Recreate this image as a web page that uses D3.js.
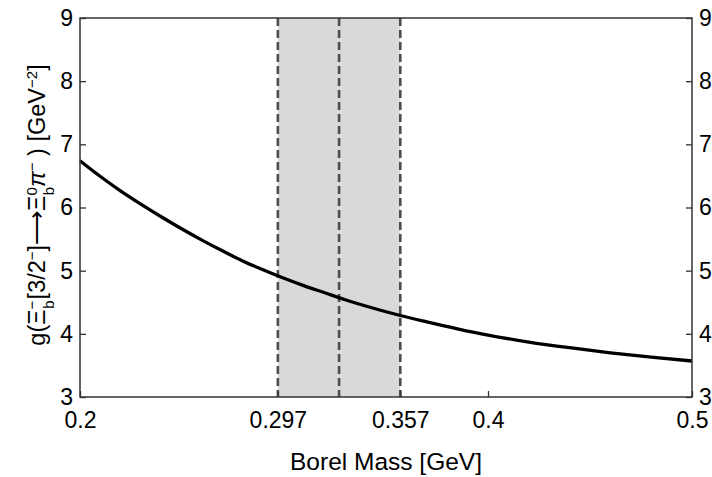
<!DOCTYPE html>
<html>
<head>
<meta charset="utf-8">
<script src="https://cdn.jsdelivr.net/npm/d3@7"></script>
<style>
  html, body { margin: 0; padding: 0; background: #fff; }
  svg { display: block; }
  text { font-family: "Liberation Sans", Arial, sans-serif; fill: #000; }
</style>
</head>
<body>
<svg id="chart" width="712" height="477"></svg>
<script>
// Borel mass (GeV) and strong coupling g (GeV^-2)
const borelMass = [0.200, 0.210, 0.220, 0.230, 0.240, 0.250, 0.260, 0.270, 0.280, 0.290,
                   0.300, 0.310, 0.320, 0.330, 0.340, 0.357, 0.370, 0.385, 0.400, 0.420,
                   0.440, 0.460, 0.480, 0.500];
const coupling  = [6.74, 6.49, 6.26, 6.05, 5.85, 5.66, 5.48, 5.31, 5.15, 5.01,
                   4.88, 4.76, 4.65, 4.54, 4.44, 4.29, 4.19, 4.08, 3.98, 3.87,
                   3.78, 3.70, 3.63, 3.57];

// Working window of the Borel parameter
const windowBounds = [0.297, 0.357];
const windowMid = 0.327;

const xTicks = [0.2, 0.297, 0.357, 0.4, 0.5];
const yTicks = [3, 4, 5, 6, 7, 8, 9];

const svg = d3.select("#chart");
const plotL = 80, plotR = 692, plotT = 18, plotB = 397;

const x = d3.scaleLinear().domain([0.2, 0.5]).range([plotL, plotR]);
const y = d3.scaleLinear().domain([3, 9]).range([plotB, plotT]);

// shaded window
svg.append("rect")
  .attr("x", x(windowBounds[0]))
  .attr("y", plotT)
  .attr("width", x(windowBounds[1]) - x(windowBounds[0]))
  .attr("height", plotB - plotT)
  .attr("fill", "#d9d9d9");

// dashed window edges and centre
svg.selectAll("line.win")
  .data([windowBounds[0], windowMid, windowBounds[1]])
  .join("line")
  .attr("class", "win")
  .attr("x1", d => x(d)).attr("x2", d => x(d))
  .attr("y1", plotT).attr("y2", plotB)
  .attr("stroke", "#4d4d4d")
  .attr("stroke-width", 2.6)
  .attr("stroke-dasharray", "8,4");

// coupling curve
const pts = borelMass.map((m, i) => [m, coupling[i]]);
svg.append("path")
  .datum(pts)
  .attr("fill", "none")
  .attr("stroke", "#000")
  .attr("stroke-width", 3.3)
  .attr("d", d3.line().x(d => x(d[0])).y(d => y(d[1])).curve(d3.curveMonotoneX));

// axes with inward ticks
const fontSize = "23px";
function styleAxis(g) {
  g.select(".domain").remove();
  g.selectAll(".tick line").attr("stroke", "#333").attr("stroke-width", 1.3);
  g.selectAll(".tick text").style("font-size", fontSize)
    .style("font-family", '"Liberation Sans", Arial, sans-serif').attr("fill", "#000");
}

svg.append("g").attr("transform", `translate(${plotL},0)`)
  .call(d3.axisLeft(y).tickValues(yTicks).tickFormat(d3.format("d")).tickSize(-6).tickPadding(7))
  .call(styleAxis);

svg.append("g").attr("transform", `translate(${plotR},0)`)
  .call(d3.axisRight(y).tickValues(yTicks).tickFormat(d3.format("d")).tickSize(-6).tickPadding(7))
  .call(styleAxis);

svg.append("g").attr("transform", `translate(0,${plotB})`)
  .call(d3.axisBottom(x).tickValues(xTicks).tickFormat(d => String(d)).tickSize(-6).tickPadding(15))
  .call(styleAxis)
  .call(g => g.selectAll(".tick text").attr("dy", "0.71em"));

// frame
svg.append("rect")
  .attr("x", plotL).attr("y", plotT)
  .attr("width", plotR - plotL).attr("height", plotB - plotT)
  .attr("fill", "none").attr("stroke", "#333").attr("stroke-width", 1.5);

// x label
svg.append("text")
  .attr("x", (plotL + plotR) / 2)
  .attr("y", 470)
  .attr("text-anchor", "middle")
  .style("font-size", "24.5px")
  .text("Borel Mass [GeV]");

// y label
const sup = "15px";
const yl = svg.append("text")
  .attr("transform", "translate(45,205) rotate(-90)")
  .attr("text-anchor", "middle")
  .style("font-size", "23.5px");
yl.append("tspan").text("g(Ξ");
yl.append("tspan").attr("baseline-shift", "super").style("font-size", sup).text("−");
yl.append("tspan").attr("baseline-shift", "sub").style("font-size", sup).attr("dx", "-8").text("b");
yl.append("tspan").attr("dx", "1").text("[3/2");
yl.append("tspan").attr("baseline-shift", "super").style("font-size", sup).text("−");
yl.append("tspan").text("]⟶Ξ");
yl.append("tspan").attr("baseline-shift", "super").style("font-size", sup).text("0");
yl.append("tspan").attr("baseline-shift", "sub").style("font-size", sup).attr("dx", "-8").text("b");
yl.append("tspan").style("font-style", "italic").text("π");
yl.append("tspan").attr("baseline-shift", "super").style("font-size", sup).text("−");
yl.append("tspan").text(" ) [GeV");
yl.append("tspan").attr("baseline-shift", "super").style("font-size", sup).text("−2");
yl.append("tspan").text("]");
</script>
</body>
</html>
